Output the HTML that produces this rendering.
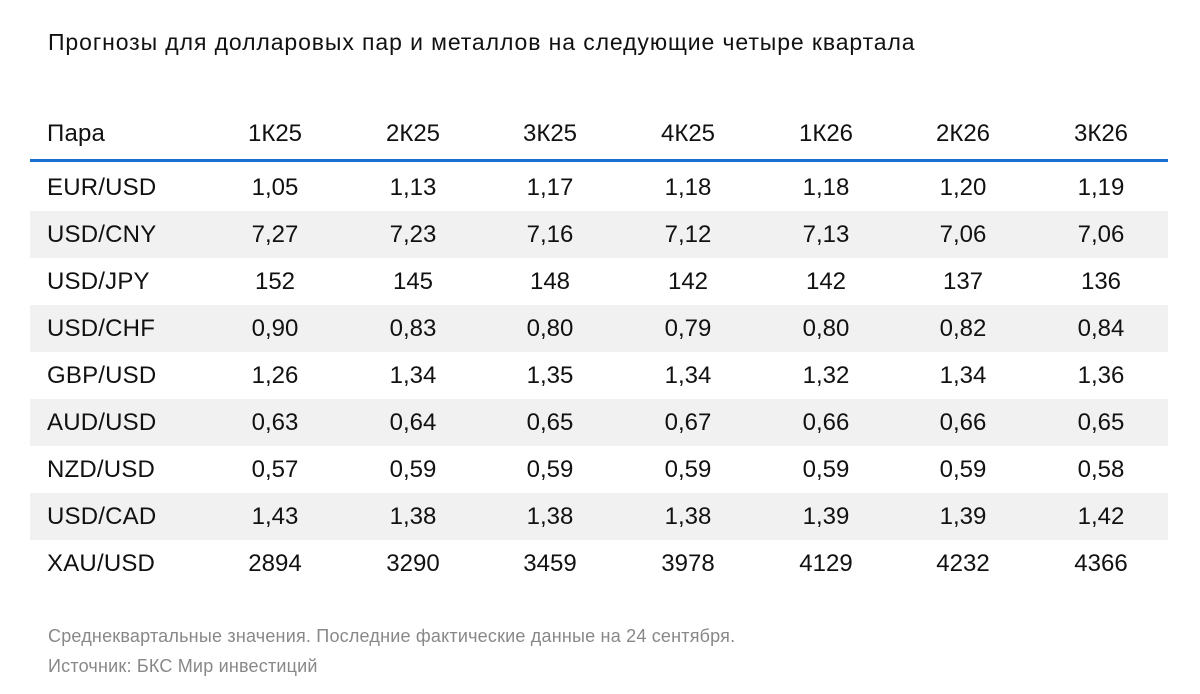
<!DOCTYPE html><html><head><meta charset="utf-8"><style>
body{margin:0;width:1200px;height:694px;background:#fff;font-family:"Liberation Sans",Arial,sans-serif;color:#111;position:relative;overflow:hidden}
.t{position:absolute;left:48px;top:29px;font-size:23px;letter-spacing:0.9px;white-space:nowrap}
.line{position:absolute;left:30px;width:1138px;top:159px;height:3px;background:#1b6fd1}
.row{position:absolute;left:30px;width:1138px;height:47px}
.sh{background:#f1f1f1}
.c{position:absolute;top:0;line-height:47px;font-size:24px;text-align:center;width:140px}
.l{position:absolute;left:17px;top:0;line-height:47px;font-size:24px;letter-spacing:0.2px}
.f{position:absolute;left:48px;font-size:18px;letter-spacing:0.2px;color:#888;white-space:nowrap}
</style></head><body>
<div class="t">Прогнозы для долларовых пар и металлов на следующие четыре квартала</div>
<div class="line"></div>
<div id="tb"></div>
<div class="f" style="top:626px">Среднеквартальные значения. Последние фактические данные на 24 сентября.</div>
<div class="f" style="top:656px">Источник: БКС Мир инвестиций</div>
<script>
var rows=[["Пара","1К25","2К25","3К25","4К25","1К26","2К26","3К26"],
["EUR/USD","1,05","1,13","1,17","1,18","1,18","1,20","1,19"],
["USD/CNY","7,27","7,23","7,16","7,12","7,13","7,06","7,06"],
["USD/JPY","152","145","148","142","142","137","136"],
["USD/CHF","0,90","0,83","0,80","0,79","0,80","0,82","0,84"],
["GBP/USD","1,26","1,34","1,35","1,34","1,32","1,34","1,36"],
["AUD/USD","0,63","0,64","0,65","0,67","0,66","0,66","0,65"],
["NZD/USD","0,57","0,59","0,59","0,59","0,59","0,59","0,58"],
["USD/CAD","1,43","1,38","1,38","1,38","1,39","1,39","1,42"],
["XAU/USD","2894","3290","3459","3978","4129","4232","4366"]];
var cx=[275,413,550,688,826,963,1101],h="";
rows.forEach(function(r,i){var top=i==0?110:164+(i-1)*47;
h+='<div class="row'+(i>0&&i%2==0?' sh':'')+'" style="top:'+top+'px"><div class="l">'+r[0]+'</div>';
for(var j=1;j<8;j++)h+='<div class="c" style="left:'+(cx[j-1]-30-70)+'px">'+r[j]+'</div>';
h+='</div>';});
document.getElementById('tb').innerHTML=h;
</script>
</body></html>
